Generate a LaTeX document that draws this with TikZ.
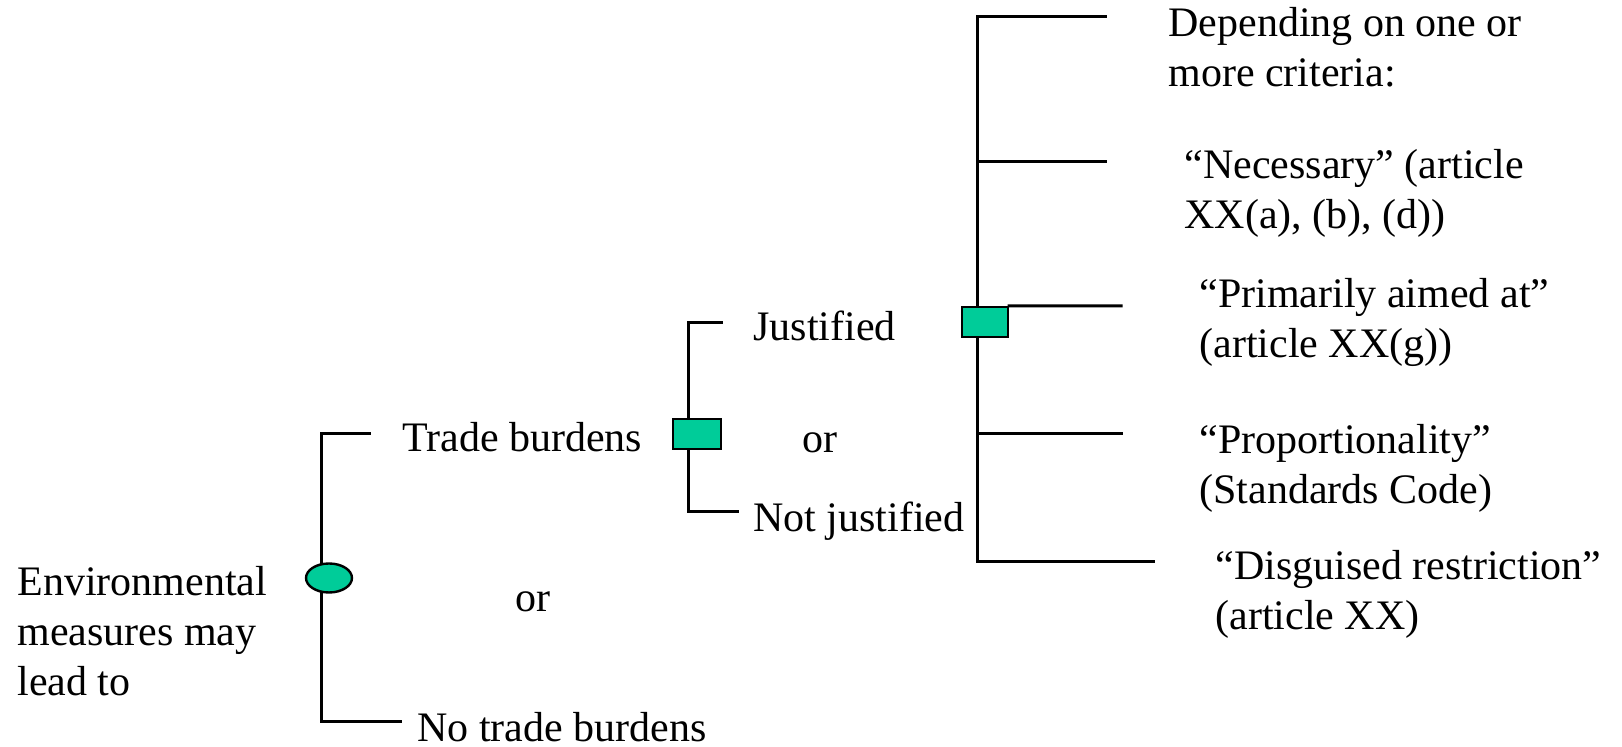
\documentclass[tikz,border=0pt]{standalone}
\usepackage{fontspec}
\setmainfont{Liberation Serif}
\usetikzlibrary{shapes.geometric}
\definecolor{teal}{RGB}{0,204,153}
\begin{document}
\begin{tikzpicture}[x=0.5pt,y=-0.5pt,
  conn/.style={line width=1.5pt,line cap=rect},
  lbl/.style={anchor=base west,inner sep=0pt,align=left,font=\fontsize{21}{25}\selectfont},
  oval/.style={ellipse,draw,line width=1.2pt,fill=teal,minimum width=23pt,minimum height=14.5pt,inner sep=0pt},
  boxy/.style={rectangle,draw,line width=1.2pt,fill=teal,inner sep=0pt}]
\useasboundingbox (0,0) rectangle (1622,747);
% left bracket
\coordinate (lt) at (321,434);
\coordinate (lb) at (321,722);
\coordinate (le1) at (369,434);
\coordinate (le2) at (400,722);
\draw[conn] (le1) -- (lt) -- (lb) -- (le2);
\node[oval] (circ) at (329,578) {};
% middle bracket
\coordinate (mt) at (688,323);
\coordinate (mb) at (688,512);
\coordinate (me1) at (721,323);
\coordinate (me2) at (737,512);
\draw[conn] (me1) -- (mt) -- (mb) -- (me2);
\node[boxy,minimum width=24pt,minimum height=15pt] (sq1) at (697,434) {};
% right bracket
\coordinate (rt) at (977,17);
\coordinate (rb) at (977,562);
\coordinate (r2) at (977,162);
\coordinate (r4) at (977,434);
\coordinate (re1) at (1105,17);
\coordinate (re2) at (1105,162);
\coordinate (re3) at (1121,306);
\coordinate (re4) at (1121,434);
\coordinate (re5) at (1153,562);
\draw[conn] (re1) -- (rt) -- (rb) -- (re5);
\draw[conn] (r2) -- (re2);
\draw[conn] (r4) -- (re4);
\node[boxy,minimum width=23pt,minimum height=15pt] (sq2) at (985,322) {};
\draw[conn] (sq2.north east) -- (re3);
% texts (anchor = baseline of the last line)
\node[lbl] (env) at (17,696) {Environmental\\measures may\\lead to};
\node[lbl] (tb) at (402,452) {Trade burdens};
\node[lbl] (or1) at (515,612) {or};
\node[lbl] (ntb) at (417,741) {No trade burdens};
\node[lbl] (just) at (753,341) {Justified};
\node[lbl] (or2) at (802,453) {or};
\node[lbl] (njust) at (753,532) {Not justified};
\node[lbl] (dep) at (1168,87) {Depending on one or\\more criteria:};
\node[lbl] (nec) at (1184,229) {“Necessary” (article\\XX(a), (b), (d))};
\node[lbl] (prim) at (1199,358) {“Primarily aimed at”\\(article XX(g))};
\node[lbl] (prop) at (1199,504) {“Proportionality”\\(Standards Code)};
\node[lbl] (disg) at (1215,630) {“Disguised restriction”\\(article XX)};
\end{tikzpicture}
\end{document}
